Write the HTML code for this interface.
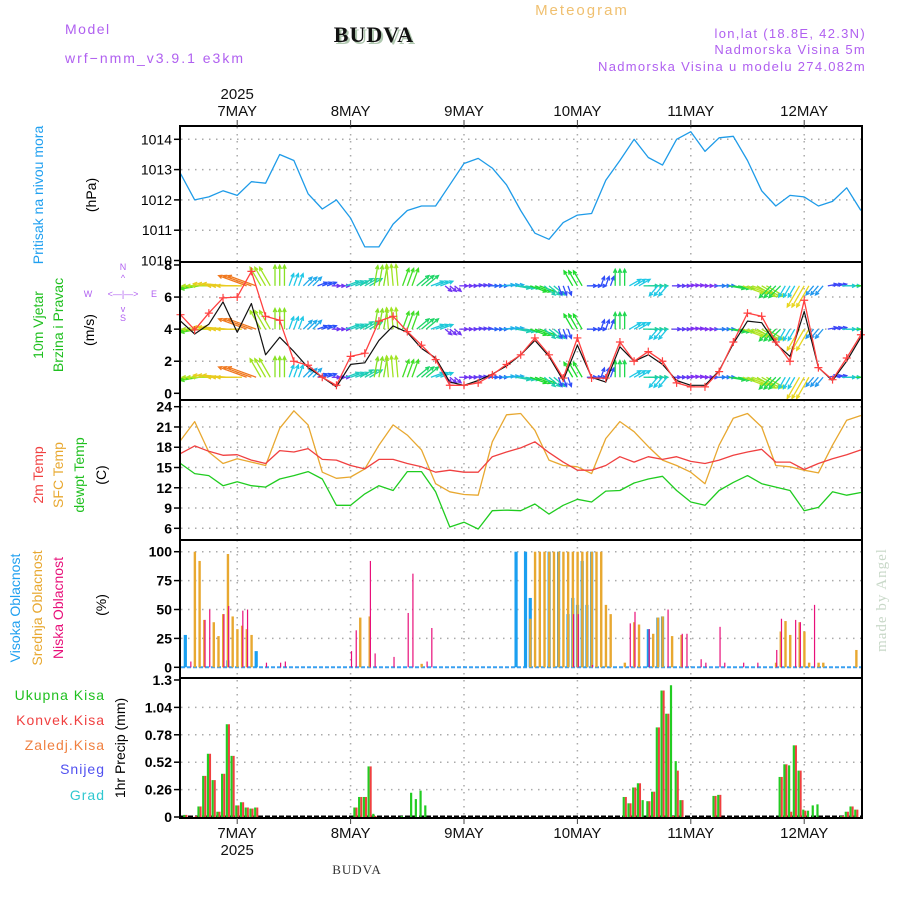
<!DOCTYPE html>
<html><head><meta charset="utf-8"><title>Meteogram BUDVA</title>
<style>
html,body{margin:0;padding:0;background:#fff;width:900px;height:900px;overflow:hidden}
svg{display:block}
text{font-family:"Liberation Sans",sans-serif}
.serif{font-family:"Liberation Serif",serif}
</style></head>
<body>
<svg id="chart" width="900" height="900" viewBox="0 0 900 900" xmlns="http://www.w3.org/2000/svg">
<defs>
<clipPath id="clipP"><rect x="180" y="127" width="682" height="134"/></clipPath>
<clipPath id="clipW"><rect x="180" y="263" width="682" height="136"/></clipPath>
</defs>
<g>
<text x="65" y="34" font-size="14" fill="#b060f0" letter-spacing="1.5">Model</text>
<text x="65" y="63" font-size="14" fill="#b060f0" letter-spacing="2">wrf−nmm_v3.9.1 e3km</text>
<text x="376" y="44" font-size="22" font-weight="bold" class="serif" fill="#b0c8b0" text-anchor="middle" letter-spacing="1">BUDVA</text>
<text x="374" y="42" font-size="22" font-weight="bold" class="serif" fill="#111" text-anchor="middle" letter-spacing="1">BUDVA</text>
<text x="582" y="15" font-size="15" fill="#f0c070" text-anchor="middle" letter-spacing="2">Meteogram</text>
<text x="866" y="38" font-size="13" fill="#b060f0" text-anchor="end" letter-spacing="1.3">lon,lat (18.8E, 42.3N)</text>
<text x="866" y="54" font-size="13" fill="#b060f0" text-anchor="end" letter-spacing="1.3">Nadmorska Visina 5m</text>
<text x="866" y="71" font-size="13" fill="#b060f0" text-anchor="end" letter-spacing="1.3">Nadmorska Visina u modelu 274.082m</text>
</g>
<g id="grid"></g>
<g id="series"></g>
<g id="frames"></g>
<g id="axes"></g>
<g>
<text transform="translate(43,195) rotate(-90)" font-size="14" fill="#20a0f0" text-anchor="middle">Pritisak na nivou mora</text>
<text transform="translate(96,195) rotate(-90)" font-size="14" fill="#000" text-anchor="middle">(hPa)</text>
<text transform="translate(43,325) rotate(-90)" font-size="14" fill="#20c020" text-anchor="middle">10m Vjetar</text>
<text transform="translate(63,325) rotate(-90)" font-size="14" fill="#20c020" text-anchor="middle">Brzina i Pravac</text>
<text transform="translate(94,330) rotate(-90)" font-size="14" fill="#000" text-anchor="middle">(m/s)</text>
<g font-size="9" fill="#b060f0">
<text x="123" y="270" text-anchor="middle">N</text>
<text x="123" y="281" text-anchor="middle">^</text>
<text x="123" y="297" text-anchor="middle">&lt;—|—&gt;</text>
<text x="123" y="312" text-anchor="middle">v</text>
<text x="123" y="321" text-anchor="middle">S</text>
<text x="88" y="297" text-anchor="middle">W</text>
<text x="154" y="297" text-anchor="middle">E</text>
</g>
<text transform="translate(43,475) rotate(-90)" font-size="14" fill="#f04040" text-anchor="middle">2m Temp</text>
<text transform="translate(63,475) rotate(-90)" font-size="14" fill="#e8a830" text-anchor="middle">SFC Temp</text>
<text transform="translate(84,475) rotate(-90)" font-size="14" fill="#20c020" text-anchor="middle">dewpt Temp</text>
<text transform="translate(106,475) rotate(-90)" font-size="14" fill="#000" text-anchor="middle">(C)</text>
<text transform="translate(20,608) rotate(-90)" font-size="14" fill="#20a0f0" text-anchor="middle">Visoka Oblacnost</text>
<text transform="translate(42,608) rotate(-90)" font-size="14" fill="#e8a830" text-anchor="middle">Srednja Oblacnost</text>
<text transform="translate(63,608) rotate(-90)" font-size="14" fill="#e8107a" text-anchor="middle">Niska Oblacnost</text>
<text transform="translate(106,605) rotate(-90)" font-size="14" fill="#000" text-anchor="middle">(%)</text>
<g font-size="14" text-anchor="end" letter-spacing="1">
<text x="105" y="700" fill="#20c020">Ukupna  Kisa</text>
<text x="105" y="725" fill="#f04040">Konvek.Kisa</text>
<text x="105" y="750" fill="#f08040">Zaledj.Kisa</text>
<text x="105" y="774" fill="#5050f0">Snijeg</text>
<text x="105" y="800" fill="#30c8d0">Grad</text>
</g>
<text transform="translate(125,748) rotate(-90)" font-size="14" fill="#000" text-anchor="middle">1hr Precip (mm)</text>
<text transform="translate(886,600) rotate(-90)" font-size="15" class="serif" fill="#c8d8c8" text-anchor="middle" letter-spacing="1">made by Angel</text>
<text x="357" y="874" font-size="13" class="serif" fill="#333" text-anchor="middle" letter-spacing="1">BUDVA</text>
</g>
</svg>
<script>
// ---- data (3-hourly values, hours from 06 May 12 UTC) ----
const dayLabels = ["7MAY","8MAY","9MAY","10MAY","11MAY","12MAY"];
const pressure = [1012.87,1012.0,1012.1,1012.3,1012.15,1012.6,1012.55,1013.5,1013.3,1012.2,1011.7,1012.0,1011.4,1010.45,1010.45,1011.2,1011.65,1011.8,1011.8,1012.5,1013.2,1013.37,1013.05,1012.5,1011.65,1010.9,1010.7,1011.25,1011.5,1011.55,1012.65,1013.3,1014.0,1013.4,1013.15,1014.0,1014.25,1013.6,1014.05,1014.1,1013.3,1012.3,1011.8,1012.15,1012.1,1011.8,1011.95,1012.4,1011.65];
const windSpeed = [4.9,3.95,5.0,5.95,6.0,7.6,4.8,4.55,2.0,1.75,1.0,0.5,2.3,2.5,4.5,4.8,3.85,3.0,2.1,0.5,0.5,0.65,1.15,1.8,2.4,3.45,2.4,0.95,3.45,0.95,0.95,3.2,2.0,2.6,2.0,0.65,0.4,0.4,1.35,3.2,5.0,4.8,3.2,2.0,5.8,1.6,0.85,2.2,3.65];
const windSpeed2 = [4.5,3.7,4.3,5.7,3.8,5.6,2.4,3.5,2.6,1.6,1.0,0.4,1.8,1.9,3.3,4.2,3.8,2.8,2.2,0.7,0.5,0.8,1.2,1.7,2.4,3.3,2.3,0.8,3.0,1.0,0.7,2.9,2.0,2.4,1.8,0.8,0.5,0.5,1.4,3.1,4.5,4.4,3.1,2.3,5.1,1.6,0.8,2.0,3.5];
const windDir = [200,190,180,175,180,160,120,90,70,45,20,0,20,30,80,95,70,40,20,-40,0,5,0,5,-10,-20,-40,-70,120,0,70,90,30,0,-130,0,5,0,0,-10,-20,-30,-135,-120,-120,-130,10,0,0];
const temp2m = [17.06,18.2,17.4,16.8,16.9,16.1,15.6,17.5,17.3,17.8,16.2,16.1,15.3,14.8,16.2,16.2,15.6,15.1,14.3,14.6,14.3,14.3,16.6,17.3,17.9,18.8,17.2,15.8,14.6,14.6,15.3,16.6,15.8,16.6,16.2,16.6,15.9,15.6,16.1,16.8,17.3,17.7,15.8,15.8,14.7,15.6,16.3,16.9,17.6];
const tempSfc = [19.0,21.8,17.3,15.6,16.3,15.8,15.3,20.8,23.4,21.3,14.3,13.4,13.6,14.8,18.3,21.3,19.8,17.6,12.6,11.4,11.0,10.9,18.8,22.8,23.0,20.5,16.1,15.3,15.1,14.1,19.3,21.8,20.3,18.1,16.1,15.3,14.3,12.6,18.3,22.3,23.0,21.0,15.3,15.1,14.6,14.2,18.3,22.0,22.7];
const dewpt = [15.6,14.1,13.8,12.3,12.9,12.3,12.1,13.3,13.8,14.4,13.3,9.4,9.4,11.1,12.3,11.6,14.4,14.4,11.4,6.2,6.9,5.9,8.6,8.7,8.6,9.6,8.1,9.4,10.3,9.9,11.5,11.6,12.7,13.3,13.7,11.6,9.9,9.4,11.6,12.8,13.8,12.6,12.1,11.6,8.6,9.1,11.4,10.9,11.3];
// cloud bars: [hour, percent]
const highCloud = [[1,28],[10,6],[16,14],[71,100],[73,100],[74,60],[78,100],[80,100],[82,46],[83,60],[84,54],[85,92],[86,54],[87,100],[99,33],[101,43],[102,44]];
const midCloud = [[3,100],[4,92],[5,41],[7,39],[8,27],[9,46],[10,98],[11,44],[12,33],[13,36],[14,33],[15,28],[38,43],[40,44],[51,3],[74,42],[75,100],[76,100],[77,100],[78,100],[79,100],[80,100],[81,100],[82,100],[83,100],[84,100],[85,100],[86,100],[87,100],[88,100],[89,100],[90,54],[91,46],[94,4],[96,39],[97,37],[100,29],[101,43],[102,44],[104,27],[106,28],[126,4],[127,31],[128,40],[129,28],[131,39],[132,31],[133,4],[135,4],[136,4],[143,15]];
const lowCloud = [[2,5],[5,41],[6,50],[9,46],[10,53],[13,49],[14,50],[18,4],[21,4],[22,5],[36,14],[37,32],[40,92],[41,12],[45,9],[48,47],[49,81],[52,5],[53,34],[83,46],[84,46],[87,2],[95,38],[96,48],[99,33],[103,50],[106,29],[107,29],[110,7],[111,4],[114,35],[115,4],[119,4],[122,4],[126,15],[127,42],[130,41],[131,39],[134,54]];
// precip bars: [hour, mm]
const totalPrecip = [[1,0.02],[4,0.1],[5,0.39],[6,0.6],[7,0.35],[8,0.05],[9,0.41],[10,0.88],[11,0.58],[12,0.11],[13,0.14],[14,0.09],[15,0.08],[16,0.09],[37,0.09],[38,0.19],[39,0.19],[40,0.48],[41,0.03],[47,0.01],[49,0.23],[50,0.17],[51,0.25],[52,0.11],[94,0.19],[95,0.13],[96,0.28],[97,0.32],[98,0.16],[99,0.15],[100,0.24],[101,0.85],[102,1.2],[103,0.98],[104,1.25],[105,0.53],[106,0.16],[113,0.2],[114,0.21],[127,0.38],[128,0.5],[129,0.49],[130,0.68],[131,0.44],[132,0.07],[133,0.06],[134,0.11],[135,0.12],[140,0.01],[141,0.05],[142,0.1],[143,0.07]];
const convPrecip = [[1,0.02],[3,0.01],[4,0.1],[5,0.39],[6,0.6],[7,0.35],[8,0.05],[9,0.41],[10,0.88],[11,0.58],[12,0.11],[13,0.14],[14,0.09],[15,0.08],[16,0.09],[37,0.09],[38,0.19],[39,0.19],[40,0.48],[41,0.01],[94,0.19],[95,0.13],[96,0.28],[97,0.32],[99,0.15],[100,0.24],[101,0.85],[102,1.2],[103,0.98],[104,0.01],[105,0.44],[106,0.16],[113,0.2],[114,0.21],[127,0.38],[128,0.5],[129,0.05],[130,0.68],[131,0.44],[132,0.06],[140,0.01],[141,0.05],[142,0.1],[143,0.07]];
const pTicks = [1010,1011,1012,1013,1014];
const wTicks = [0,2,4,6,8];
const tTicks = [6,9,12,15,18,21,24];
const cTicks = [0,25,50,75,100];
const rTicks = ["0","0.26","0.52","0.78","1.04","1.3"];

// ---- scales ----
const X = h => 180.5 + h*4.725;
const hourOf = i => i*3;
const yP = v => 139.3 + (1014 - v)*30.3;
const yW = v => 393.3 - v*16.04;
const yT = v => 406.7 + (24 - v)*6.756;
const yC = v => 667.3 - v*1.156;
const yR = v => 817 - v*105.4;
const panels = [[126,262],[262,400],[400,540],[540,678],[678,818]];
const NS = "http://www.w3.org/2000/svg";
function mk(tag, attrs, parent){const e=document.createElementNS(NS,tag);for(const k in attrs)e.setAttribute(k,attrs[k]);parent.appendChild(e);return e;}
const gGrid=document.getElementById('grid'), gS=document.getElementById('series'), gF=document.getElementById('frames'), gA=document.getElementById('axes');

// grid
function hgrid(y){const l=mk('line',{x1:181,x2:861,y1:y,y2:y,stroke:'#aaa','stroke-width':1.5,'stroke-dasharray':'1.5,5.5'},gGrid);

}
pTicks.forEach(v=>{ if(v>1010) hgrid(yP(v)); });
wTicks.forEach(v=>{ if(v>0&&v<8) hgrid(yW(v)); });
tTicks.forEach(v=>hgrid(yT(v)));
cTicks.forEach(v=>{ if(v>0) hgrid(yC(v)); });
rTicks.forEach(v=>{ if(+v>0&&+v<1.3) hgrid(yR(+v)); });
dayLabels.forEach((d,i)=>{
  const x=X(12+24*i);
  const l=mk('line',{x1:x,x2:x,y1:127,y2:817,stroke:'#aaa','stroke-width':1.5,'stroke-dasharray':'1.5,5.5'},gGrid);
  
  
  const t=mk('text',{x:x,y:116,'font-size':15,'text-anchor':'middle',fill:'#111'},gA); t.textContent=d;
  
  
  const t2=mk('text',{x:x,y:838,'font-size':15,'text-anchor':'middle',fill:'#111'},gA); t2.textContent=d;
  
  
  mk('line',{x1:x,x2:x,y1:120,y2:126,stroke:'#444','stroke-width':1},gA);
  mk('line',{x1:x,x2:x,y1:818,y2:824,stroke:'#444','stroke-width':1},gA);
});
{const t=mk('text',{x:X(12),y:99,'font-size':15,'text-anchor':'middle',fill:'#111'},gA);t.textContent='2025';


const t2=mk('text',{x:X(12),y:855,'font-size':15,'text-anchor':'middle',fill:'#111'},gA);t2.textContent='2025';

}

// tick labels
function tick(y,label,bold){const t=mk('text',{x:172,y:y+5,'font-size':14,'text-anchor':'end',fill:'#000','font-weight':bold?'bold':'normal'},gA);t.textContent=label;


mk('line',{x1:174,x2:180,y1:y,y2:y,stroke:'#000','stroke-width':1.5},gA);}
pTicks.forEach(v=>tick(yP(v),String(v),false));
wTicks.forEach(v=>tick(yW(v),String(v),true));
tTicks.forEach(v=>tick(yT(v),String(v),true));
cTicks.forEach(v=>tick(yC(v),String(v),true));
rTicks.forEach(v=>tick(yR(+v),v,true));

// frames
panels.forEach(p=>{const r=mk('rect',{x:180,y:p[0],width:682,height:p[1]-p[0],fill:'none',stroke:'#000','stroke-width':2},gF);

});

function line(arr,ys,color,name,clip,w){
  const pts=arr.map((v,i)=>X(hourOf(i)).toFixed(1)+','+ys(v).toFixed(1)).join(' ');
  const attrs={points:pts,fill:'none',stroke:color,'stroke-width':w||1.3,'stroke-linejoin':'round'};
  if(clip)attrs['clip-path']='url(#'+clip+')';
  const p=mk('polyline',attrs,gS);
  
  
  return p;
}
// pressure
line(pressure,yP,'#1e9be8','pressure-line','clipP');

// wind arrows
function speedColor(s){
  const stops=[[0.3,[140,40,240]],[1,[40,80,250]],[2,[30,200,230]],[3.5,[30,220,40]],[5.5,[230,230,30]],[7.5,[240,120,30]]];
  if(s<=stops[0][0])return 'rgb('+stops[0][1]+')';
  for(let i=1;i<stops.length;i++){if(s<=stops[i][0]){const a=stops[i-1],b=stops[i],t=(s-a[0])/(b[0]-a[0]);
  return 'rgb('+a[1].map((c,k)=>Math.round(c+(b[1][k]-c)*t)).join(',')+')';}}
  return 'rgb(240,120,30)';
}
const rows=[6.7,4.0,1.0];
const subOffsets=[-1,0,1]; // each 3h sample drawn for its three hours
rows.forEach((rv,ri)=>{
  windDir.forEach((d,i)=>{
    const s=windSpeed[i], c=speedColor(s);
    const L=7+3*s, a=d*Math.PI/180;
    const g=mk('g',{stroke:c,'stroke-width':1.3,fill:'none','clip-path':'url(#clipW)'},gS);
    
    
    subOffsets.forEach(o=>{
      const x0=X(hourOf(i)+o), y0=yW(rv);
      const x1=x0+L*Math.cos(a), y1=y0-L*Math.sin(a);
      mk('line',{x1:x0,y1:y0,x2:x1,y2:y1},g);
      const h1=a+Math.PI-0.45,h2=a+Math.PI+0.45;
      mk('polyline',{points:(x1+4*Math.cos(h1))+','+(y1-4*Math.sin(h1))+' '+x1+','+y1+' '+(x1+4*Math.cos(h2))+','+(y1-4*Math.sin(h2))},g);
    });
  });
});
line(windSpeed2,yW,'#111','wind-speed-line-black','clipW',1.2);
line(windSpeed,yW,'#ff4040','wind-speed-line','clipW',1.3);
windSpeed.forEach((v,i)=>{const x=X(hourOf(i)),y=yW(v);
  const p=mk('path',{d:`M${x-4},${y}H${x+4}M${x},${y-4}V${y+4}`,stroke:'#ff4040','stroke-width':1.2},gS);
  
  });

// temperatures
line(tempSfc,yT,'#e8a830','sfc-temp-line');
line(temp2m,yT,'#f04040','temp-2m-line');
line(dewpt,yT,'#20cc20','dewpoint-line');

// cloud baseline
{const b=mk('line',{x1:181,x2:861,y1:yC(0),y2:yC(0),stroke:'#3aa0f0','stroke-width':2,'stroke-dasharray':'4,2'},gS);

}
function bars(arr,ys,color,off,w,name){
  arr.forEach(([h,v])=>{const y=ys(v),y0=ys(0);
    const r=mk('rect',{x:X(h)+off,y:y,width:w,height:Math.max(0.5,y0-y),fill:color},gS);
    
    });
}
bars(highCloud,yC,'#1a9ff0',-1.5,3.2,'high-cloud-bar');
bars(midCloud,yC,'#e8a830',-1,2.4,'mid-cloud-bar');
bars(lowCloud,yC,'#e8107a',0.3,1.2,'low-cloud-bar');

// precip
{const b=mk('line',{x1:181,x2:861,y1:816.5,y2:816.5,stroke:'#000','stroke-width':2,'stroke-dasharray':'5,2'},gS);

}
bars(totalPrecip,yR,'#22cc22',-2,2.2,'total-precip-bar');
bars(convPrecip,yR,'#f04040',0.2,2.0,'convective-precip-bar');
</script>
</body></html>
